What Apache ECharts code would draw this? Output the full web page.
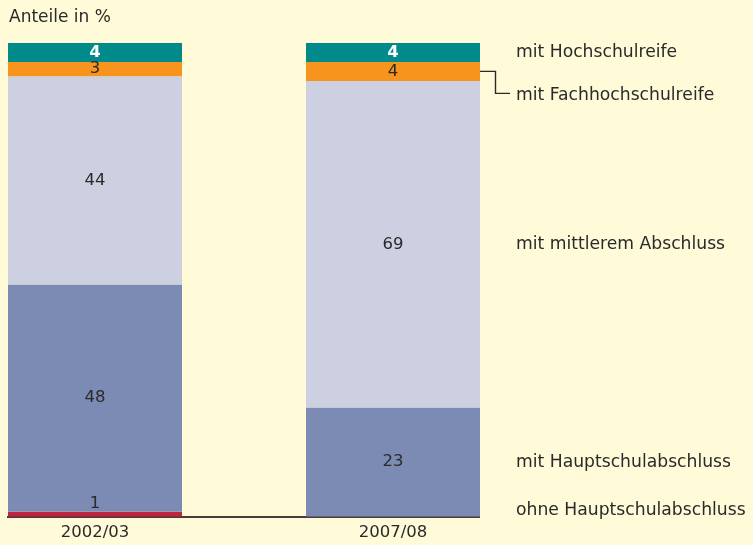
<!DOCTYPE html>
<html>
<head>
<meta charset="utf-8">
<script src="https://cdn.jsdelivr.net/npm/echarts@6/dist/echarts.min.js"></script>
<style>
html,body{margin:0;padding:0;background:#fffbd9;}
#chart{width:753px;height:545px;}
</style>
</head>
<body>
<div id="chart"></div>
<script>
var years = ['2002/03', '2007/08'];
var ohne = [1, 0];
var haupt = [48, 23];
var mittel = [44, 69];
var fach = [3, 4];
var hoch = [4, 4];
var names = ['ohne Hauptschulabschluss', 'mit Hauptschulabschluss', 'mit mittlerem Abschluss', 'mit Fachhochschulreife', 'mit Hochschulreife'];
var colors = ['#c1243f', '#7b8bb3', '#cdd0e0', '#f7941e', '#008b8a'];

var font = 'DejaVu Sans';
var fs = 16.5;
var txt = '#2a2a2a';
var barW = 174;

function mkSeries(name, data, color, label) {
    return {
        name: name,
        type: 'bar',
        stack: 'all',
        barWidth: barW,
        clip: false,
        data: data,
        itemStyle: {color: color},
        label: label,
        emphasis: {disabled: true}
    };
}

var chart = echarts.init(document.getElementById('chart'));
var darkLabel = {show: true, position: 'inside', color: txt, fontSize: fs, fontFamily: font};

var option = {
    backgroundColor: '#fffbd9',
    animation: false,
    title: {
        text: 'Anteile in %',
        left: 4,
        top: 4,
        textStyle: {fontSize: 17, fontWeight: 'normal', color: txt, fontFamily: font}
    },
    grid: {left: 95, width: 298, top: 43, height: 473.5},
    xAxis: {
        type: 'category',
        data: years,
        boundaryGap: false,
        axisLine: {show: false},
        axisTick: {show: false},
        axisLabel: {margin: 8, color: txt, fontSize: fs, fontFamily: font}
    },
    yAxis: {
        type: 'value',
        min: 0,
        max: 100,
        show: false,
        splitLine: {show: false}
    },
    series: [
        mkSeries(names[0], ohne, colors[0], {
            show: true, position: 'top', distance: 0, color: txt, fontSize: fs, fontFamily: font,
            formatter: function (p) { return p.value ? p.value : ''; }
        }),
        mkSeries(names[1], haupt, colors[1], darkLabel),
        mkSeries(names[2], mittel, colors[2], darkLabel),
        mkSeries(names[3], fach, colors[3], darkLabel),
        mkSeries(names[4], hoch, colors[4], {show: true, position: 'inside', color: '#fff', fontWeight: 'bold', fontSize: fs, fontFamily: font})
    ]
};
chart.setOption(option);

// Achse und Beschriftungen rechts neben dem zweiten Balken
var x0 = chart.convertToPixel({xAxisIndex: 0}, years[0]) - barW / 2;
var x1 = chart.convertToPixel({xAxisIndex: 0}, years[1]) + barW / 2;
var yZero = chart.convertToPixel({yAxisIndex: 0}, 0);
var tx = x1 + 36;

var segs = [ohne[1], haupt[1], mittel[1], fach[1], hoch[1]];
var cum = 0;
var mids = [];
for (var i = 0; i < segs.length; i++) {
    mids.push(chart.convertToPixel({yAxisIndex: 0}, cum + segs[i] / 2));
    cum += segs[i];
}
var labelY = mids.slice();
labelY[0] = yZero - 6;
labelY[3] = mids[3] + 24;

var graphics = [{
    type: 'line',
    shape: {x1: x0 - 1, y1: yZero + 0.5, x2: x1, y2: yZero + 0.5},
    style: {stroke: '#4b3b3b', lineWidth: 2}
}, {
    type: 'polyline',
    shape: {points: [[x1, mids[3]], [x1 + 15.5, mids[3]], [x1 + 15.5, labelY[3] - 2], [x1 + 30, labelY[3] - 2]]},
    style: {stroke: '#2a2a2a', lineWidth: 1.4, fill: null}
}];
for (var j = 0; j < names.length; j++) {
    graphics.push({
        type: 'text',
        x: tx,
        y: labelY[j],
        style: {text: names[j], fill: txt, font: '17.2px "' + font + '"', verticalAlign: 'middle', align: 'left'}
    });
}
chart.setOption({graphic: graphics});
</script>
</body>
</html>
